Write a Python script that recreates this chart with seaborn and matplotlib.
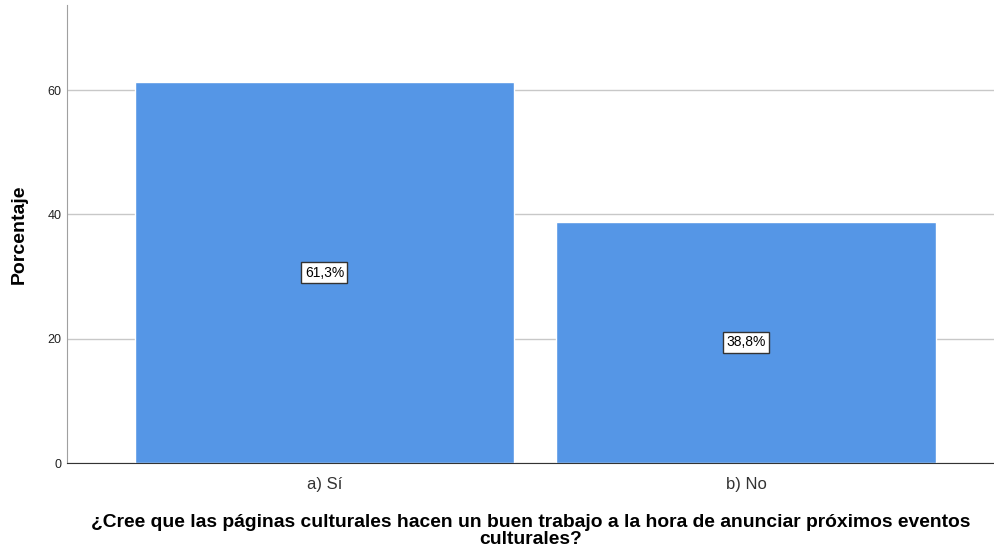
import pandas as pd
import matplotlib.pyplot as plt
import seaborn as sns

categories = ['a) Sí', 'b) No']
percentages = [61.3, 38.8]
value_labels = ['61,3%', '38,8%']

sns.set_style('white')
plt.rcParams['font.family'] = ['Liberation Sans', 'DejaVu Sans']

df = pd.DataFrame({'respuesta': categories, 'porcentaje': percentages})

fig = plt.figure(figsize=(9.94, 5.51), dpi=100)
ax = fig.add_axes([0.0674, 0.1597, 0.9326, 0.8313])

sns.barplot(data=df, x='respuesta', y='porcentaje', color='#5596E6',
            saturation=1, width=0.9, ax=ax, zorder=2)

# grid lines behind the bars
ax.set_yticks([0, 20, 40, 60])
ax.yaxis.grid(True, color='#c8c8c8', linewidth=1, zorder=0)
ax.set_axisbelow(True)
ax.set_ylim(0, 73.7)
ax.set_xlim(-0.61, 1.587)

for spine in ['top', 'right']:
    ax.spines[spine].set_visible(False)
ax.spines['left'].set_color('#a0a0a0')
ax.spines['bottom'].set_color('#333333')

ax.tick_params(axis='y', length=0, labelsize=9, pad=4, labelcolor='#222222')
ax.tick_params(axis='x', length=0, labelsize=12, pad=10, labelcolor='#333333')

# value boxes in the middle of each bar
for i, (val, lab) in enumerate(zip(percentages, value_labels)):
    ax.text(i, val / 2, lab, ha='center', va='center', fontsize=10, color='black',
            bbox=dict(boxstyle='square,pad=0.25', facecolor='white',
                      edgecolor='#333333', linewidth=1), zorder=3)

ax.set_ylabel('Porcentaje', fontsize=14, fontweight='bold', labelpad=14, color='black')
ax.set_xlabel('¿Cree que las páginas culturales hacen un buen trabajo a la hora de anunciar próximos eventos\nculturales?',
              fontsize=13.9, fontweight='bold', labelpad=16, linespacing=1.0, color='black')

plt.savefig('out.png', dpi=100)
